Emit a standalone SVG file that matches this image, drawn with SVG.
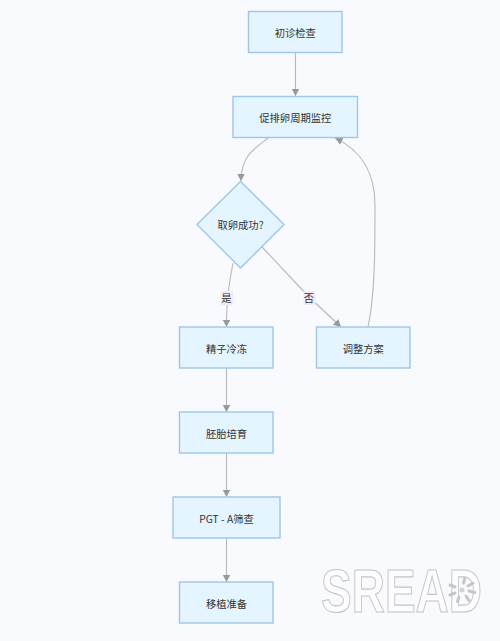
<svg xmlns="http://www.w3.org/2000/svg" width="500" height="641" viewBox="0 0 500 641">
<style>
text{font-family:"Noto Sans CJK SC","Noto Sans",sans-serif;font-size:10.3px;fill:#333;text-anchor:middle;dominant-baseline:central}
.n{fill:#e4f5ff;stroke:#9fc5e8;stroke-width:1.4}
.e{fill:none;stroke:#b8b8b8;stroke-width:1.1}
.l{fill:#f1e9fb}
.wm{font-family:"Liberation Sans",sans-serif;font-weight:700;font-size:46px;fill:#fdfdfe;stroke:#c2c4c6;stroke-width:1;text-anchor:start;dominant-baseline:auto;vector-effect:non-scaling-stroke}
.sun{stroke:#c4c6c8;stroke-width:3;stroke-linecap:round;fill:none}
</style>
<defs>
<marker id="a" markerWidth="9" markerHeight="9" refX="7.500" refY="4" orient="auto" markerUnits="userSpaceOnUse"><path d="M0 0L7.500 4L0 8Z" fill="#999"/></marker>
</defs>
<rect width="500" height="641" fill="#f9fafd"/>
<g id="connectors">
<path class="e" marker-end="url(#a)" d="M295.500 52.500V96"/>
<path class="e" marker-end="url(#a)" d="M268 138C254 149 241 156 241 181"/>
<path class="e" marker-end="url(#a)" d="M233 263C229 284 226.500 300 226.500 327"/>
<path class="e" marker-end="url(#a)" d="M262 247L309 297L341 327"/>
<path class="e" marker-end="url(#a)" d="M368 327C375 295 375 250 375 205C375 170 360 150 335 138"/>
<path class="e" marker-end="url(#a)" d="M226.500 368V412"/>
<path class="e" marker-end="url(#a)" d="M226.500 453V497"/>
<path class="e" marker-end="url(#a)" d="M226.500 538V582"/>
</g>
<g id="n1"><rect class="n" x="248.500" y="11.500" width="93.500" height="41"/><text x="295.300" y="32">初诊检查</text></g>
<g id="n2"><rect class="n" x="233" y="96.500" width="124.500" height="41"/><text x="295.300" y="117">促排卵周期监控</text></g>
<g id="n3"><path class="n" d="M240.500 181.500L284 224.500L240.500 268L197 224.500Z"/><text x="240.500" y="224.500">取卵成功?</text></g>
<g id="n4"><rect class="n" x="179.500" y="327" width="93.500" height="41"/><text x="226.500" y="348">精子冷冻</text></g>
<g id="n5"><rect class="n" x="316.500" y="327" width="93.500" height="41"/><text x="363.300" y="348">调整方案</text></g>
<g id="n6"><rect class="n" x="179.500" y="412" width="93.500" height="41"/><text x="226.500" y="433">胚胎培育</text></g>
<g id="n7"><rect class="n" x="173" y="497" width="107" height="41"/><text x="226.500" y="518">PGT - A筛查</text></g>
<g id="n8"><rect class="n" x="179.500" y="582" width="93.500" height="41"/><text x="226.500" y="603">移植准备</text></g>
<g id="edge-labels">
<g id="l-yes"><rect class="l" x="221" y="291" width="12" height="14"/><text x="226.500" y="297.500">是</text></g>
<g id="l-no"><rect class="l" x="303.500" y="291" width="12" height="14"/><text x="309" y="297.500">否</text></g>
</g>
<g id="watermark">
<text class="wm" transform="translate(321 612) scale(1 1.32)">SREAD</text>
<circle cx="462" cy="590" r="2.500" fill="#d0d2d4"/>
<path class="sun" d="M463.500 583L465 578M468 586L473 583M469 591L475 592.500M466 596L469 600.500M459 597L457.500 601.500M455 593L450 595M455 587L450 585"/>
</g>
</svg>
